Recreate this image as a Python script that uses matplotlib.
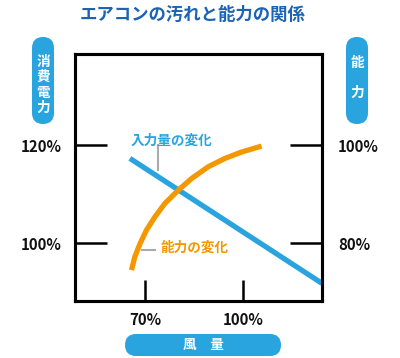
import matplotlib
matplotlib.use("Agg")
import matplotlib.pyplot as plt
from matplotlib.patches import FancyBboxPatch

plt.rcParams["font.family"] = ["Noto Sans CJK JP", "DejaVu Sans"]

TITLE = "エアコンの汚れと能力の関係"
LEFT_LABEL = "消費電力"
RIGHT_LABEL = "能力"
X_LABEL = "風　量"

# airflow (%) vs. power input (%), left axis
power_x = [65.4, 124.2]
power_y = [117.3, 91.8]

# airflow (%) vs. capacity (%), right axis
cap_x = [65.9, 66.9, 68.5, 70.5, 73.1, 76.1, 80.2, 84.3, 89.4, 94.5, 99.6, 105.7]
cap_y = [74.5, 77.2, 79.9, 82.7, 85.4, 88.1, 90.8, 93.2, 95.6, 97.3, 98.6, 99.8]

x_ticks = [70, 100]
left_ticks = [100, 120]
right_ticks = [80, 100]

BLUE = "#2aa4df"
ORANGE = "#f39800"
TITLE_BLUE = "#1b63b3"
GRAY = "#aaaaaa"

W, H = 400, 358
fig = plt.figure(figsize=(W / 100, H / 100), dpi=100)


def frac(l, t, r, b):
    return [l / W, 1 - b / H, (r - l) / W, (b - t) / H]


ax = fig.add_axes(frac(75, 54, 322, 301))
ax.set_xlim(48.6, 124.2)
ax.set_ylim(88.2, 138.6)
ax2 = ax.twinx()
ax2.set_ylim(68.2, 118.6)

for a in (ax, ax2):
    for s in a.spines.values():
        s.set_linewidth(2.2)
    a.patch.set_visible(False)

ax.plot(power_x, power_y, color=BLUE, lw=3.8, solid_capstyle="butt", zorder=3)
ax2.plot(cap_x, cap_y, color=ORANGE, lw=3.8, solid_capstyle="butt",
         solid_joinstyle="round", zorder=3)

lab = dict(fontsize=10.8, fontweight="bold", color="#111111")
ax.set_xticks(x_ticks)
ax.set_xticklabels([f"{v}%" for v in x_ticks], **lab)
ax.set_yticks(left_ticks)
ax.set_yticklabels([f"{v}%" for v in left_ticks], **lab)
ax2.set_yticks(right_ticks)
ax2.set_yticklabels([f"{v}%" for v in right_ticks], **lab)
ax.tick_params(axis="y", direction="in", length=23, width=1.8, pad=9.5, right=False)
ax.tick_params(axis="x", direction="in", length=15, width=1.8, pad=8)
ax2.tick_params(axis="y", direction="in", length=23, width=1.8, pad=11.5)

# series labels with gray pointers
ax.text(65.6, 121.0, "入力量の変化", color=BLUE, fontsize=9.8, fontweight="bold",
        va="center", ha="left")
ax.plot([73.9, 73.9], [120.0, 114.9], color=GRAY, lw=1.5)
ax.text(74.9, 99.0, "能力の変化", color=ORANGE, fontsize=9.8, fontweight="bold",
        va="center", ha="left")
ax.plot([69.1, 73.0], [98.6, 98.6], color=GRAY, lw=1.5)

fig.text(192.5 / W, 1 - 15 / H, TITLE, color=TITLE_BLUE, fontsize=12.5,
         fontweight="bold", ha="center", va="center")


def badge(l, t, r, b):
    p = FancyBboxPatch((l / 100, (H - b) / 100), (r - l) / 100, (b - t) / 100,
                       boxstyle="round,pad=0,rounding_size=0.11",
                       transform=fig.dpi_scale_trans, fc=BLUE, ec="none")
    fig.patches.append(p)


def ptext(x, y, s):
    fig.text(x / W, 1 - y / H, s, color="white", fontsize=9.8,
             fontweight="bold", ha="center", va="center")


badge(32, 37, 54, 124)
for ch, y in zip(LEFT_LABEL, [62, 77, 93, 108]):
    ptext(43, y, ch)

badge(346, 37, 368, 124)
for ch, y in zip(RIGHT_LABEL, [63, 93]):
    ptext(357, y, ch)

badge(125, 334, 281, 356)
ptext(203, 345, X_LABEL)

fig.savefig("out.png", dpi=100)
